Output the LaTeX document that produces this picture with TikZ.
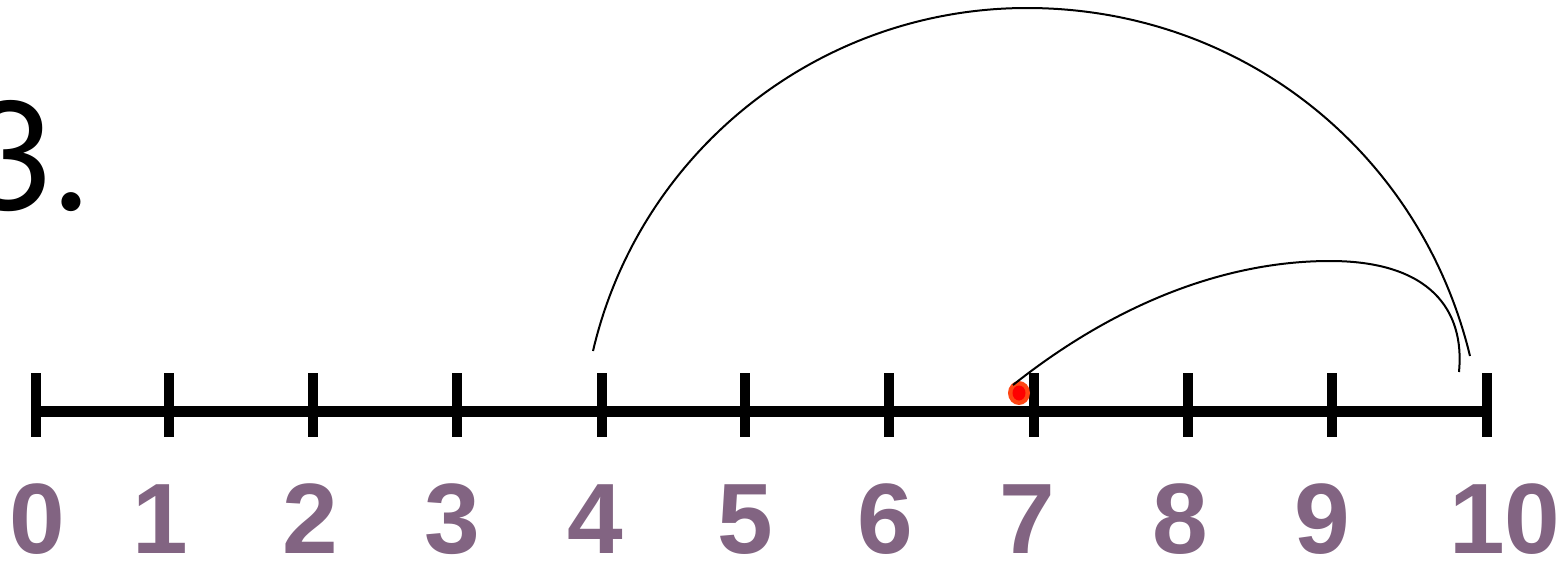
\documentclass[tikz,border=0pt]{standalone}
\usepackage{fontspec}
\setmainfont{Liberation Sans}
\newfontfamily\titlefont{Lato}
\definecolor{digitcol}{RGB}{130,100,130}
\definecolor{dotouter}{RGB}{255,70,20}
\definecolor{dotinner}{RGB}{255,0,0}
\begin{document}
\begin{tikzpicture}[x=0.5pt,y=-0.5pt,
  axisline/.style={line width=5.5pt},
  tickmark/.style={line width=5pt},
  hopline/.style={line width=1pt},
  numlabel/.style={anchor=base,inner sep=0pt,text=digitcol,font=\fontsize{50}{50}\selectfont\bfseries}]
\useasboundingbox (0,0) rectangle (1560,562);
% title
\node[anchor=base east,inner sep=0pt,font=\titlefont\fontsize{76}{76}\selectfont] (title) at (90,210) {3.};
% tick coordinates
\foreach \n/\x in {0/36,1/169,2/313,3/457,4/602,5/745,6/889,7/1034,8/1188,9/1332,10/1487}{
  \coordinate (t\n) at (\x,411);
  \coordinate (tt\n) at (\x,373);
  \coordinate (tb\n) at (\x,437);
}
\draw[axisline] (t0) -- (t10);
\foreach \n in {0,...,10}{ \draw[tickmark] (tt\n) -- (tb\n); }
% labels
\foreach \n/\x in {0/37,1/160,2/310,3/452,4/595,5/745,6/885,7/1027,8/1180,9/1322,10/1505}{
  \node[numlabel] (l\n) at (\x,553) {\n};
}
% red dot
\fill[dotouter] (1019,393) ellipse [x radius=11, y radius=12];
\fill[dotinner] (1019,393) ellipse [x radius=6.5, y radius=7.5];
\coordinate (dot) at (1013,385);
% arcs
\coordinate (a1) at (593,351);
\coordinate (atop) at (1027,8);
\coordinate (a2) at (1470,356);
\draw[hopline] (a1) .. controls (640,150) and (820,8) .. (atop)
                    .. controls (1240,8) and (1420,150) .. (a2);
\coordinate (btop) at (1330,261);
\coordinate (b2) at (1459,372);
\draw[hopline] (dot) .. controls (1120,300) and (1230,261) .. (btop)
                     .. controls (1430,261) and (1465,310) .. (b2);
\end{tikzpicture}
\end{document}
